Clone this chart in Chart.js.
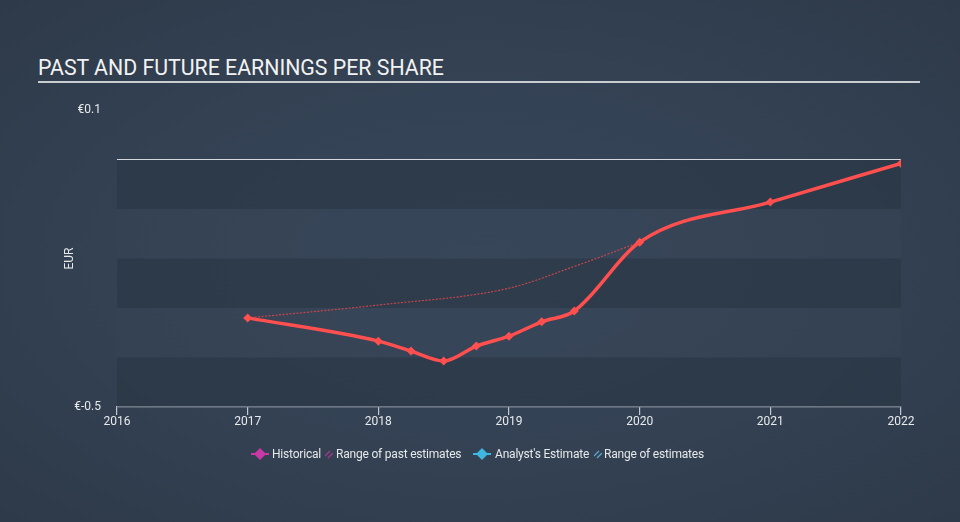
<!DOCTYPE html>
<html>
<head>
<meta charset="utf-8">
<script src="https://cdn.jsdelivr.net/npm/chart.js@4"></script>
<style>
  html, body { margin: 0; padding: 0; }
  body {
    width: 960px; height: 522px; overflow: hidden; position: relative;
    background: radial-gradient(ellipse at 50% 50%, #36465a 0%, #334153 55%, #2e3a49 100%);
    font-family: Roboto, "Liberation Sans", sans-serif;
  }
  #title {
    position: absolute; left: 38px; top: 55px; width: 882px;
    color: #f2f2f2; font-size: 21.3px; line-height: 25px;
    border-bottom: 2px solid #c9cdd2; padding-bottom: 1px;
  }
  #wrap { position: absolute; left: 0; top: 0; width: 960px; height: 522px; }
  #legend {
    position: absolute; top: 446px; left: 0; width: 960px; height: 16px;
    font-family: Roboto, sans-serif; font-size: 12px; color: #e6e8ea;
  }
  .li { position: absolute; top: 0; line-height: 16px; white-space: nowrap; letter-spacing: -0.2px; }
  .dia { position: absolute; top: 2px; width: 18px; height: 12px; }
  .hatch { position: absolute; top: 3px; width: 8px; height: 10px; }
</style>
</head>
<body>
<div id="title">PAST AND FUTURE EARNINGS PER SHARE</div>
<div id="wrap"><canvas id="c" width="960" height="522"></canvas></div>
<div id="legend">
  <svg class="dia" style="left:251px" viewBox="0 0 18 12"><path d="M0 5h5v2H0zM13 5h5v2h-5z" fill="#c73aa6"/><path d="M9 0l6 6-6 6-6-6z" fill="#c73aa6"/></svg>
  <span class="li" style="left:272px">Historical</span>
  <svg class="hatch" style="left:325px" viewBox="0 0 8 10"><path d="M0 7l5-5M3 9l5-5" stroke="#a23a8e" stroke-width="1.3"/></svg>
  <span class="li" style="left:336px">Range of past estimates</span>
  <svg class="dia" style="left:473px" viewBox="0 0 18 12"><path d="M0 5h5v2H0zM13 5h5v2h-5z" fill="#3fb6e0"/><path d="M9 0l6 6-6 6-6-6z" fill="#3fb6e0"/></svg>
  <span class="li" style="left:495px">Analyst's Estimate</span>
  <svg class="hatch" style="left:594px" viewBox="0 0 8 10"><path d="M0 7l5-5M3 9l5-5" stroke="#5aa7c8" stroke-width="1.3"/></svg>
  <span class="li" style="left:604px">Range of estimates</span>
</div>
<script>
// ---- data ----
const epsYears  = [2017, 2018, 2018.25, 2018.5, 2018.75, 2019, 2019.25, 2019.5, 2020, 2021, 2022];
const epsValues = [-0.320, -0.367, -0.387, -0.407, -0.377, -0.357, -0.328, -0.306, -0.167, -0.086, -0.008];
const pastEstYears  = [2017, 2018, 2019, 2019.5, 2020];
const pastEstValues = [-0.320, -0.294, -0.260, -0.216, -0.167];
const xTickYears = [2016, 2017, 2018, 2019, 2020, 2021, 2022];
const yTickValues = [-0.5, 0.1];
const bandEdges = [-0.5, -0.4, -0.3, -0.2, -0.1, 0.0];
const yMin = -0.5, yMax = 0.1;

const toXY = (xs, ys) => xs.map((x, i) => ({x: x, y: ys[i]}));

const bandPlugin = {
  id: 'bands',
  beforeDatasetsDraw(chart) {
    const {ctx, chartArea, scales} = chart;
    const y = scales.y;
    ctx.save();
    for (let i = 0; i < bandEdges.length - 1; i++) {
      const y0 = y.getPixelForValue(bandEdges[i]);
      const y1 = y.getPixelForValue(bandEdges[i + 1]);
      ctx.fillStyle = (i % 2 === 0) ? 'rgba(40,52,66,0.55)' : 'rgba(58,72,88,0.25)';
      ctx.fillRect(chartArea.left, y1, chartArea.right - chartArea.left, y0 - y1);
    }
    const yz = y.getPixelForValue(0);
    ctx.strokeStyle = '#d5d8dc';
    ctx.lineWidth = 1.2;
    ctx.beginPath();
    ctx.moveTo(chartArea.left, yz);
    ctx.lineTo(chartArea.right, yz);
    ctx.stroke();
    ctx.restore();
  }
};

new Chart(document.getElementById('c'), {
  type: 'scatter',
  data: {
    datasets: [
      {
        label: 'Range of past estimates',
        data: toXY(pastEstYears, pastEstValues),
        showLine: true,
        borderColor: 'rgba(230,70,75,0.85)',
        borderWidth: 1.2,
        borderDash: [2, 1.5],
        pointRadius: 0,
        cubicInterpolationMode: 'monotone',
        order: 2
      },
      {
        label: 'EPS',
        data: toXY(epsYears, epsValues),
        showLine: true,
        borderColor: '#ff4f4f',
        backgroundColor: '#ff4f4f',
        borderWidth: 3.5,
        pointStyle: 'rectRot',
        pointRadius: 4.5,
        pointBorderWidth: 0,
        cubicInterpolationMode: 'monotone',
        order: 1
      }
    ]
  },
  options: {
    responsive: false,
    animation: false,
    events: [],
    layout: { padding: { left: 40, right: 59, top: 110, bottom: 85 } },
    plugins: { legend: { display: false }, tooltip: { enabled: false }, title: { display: false } },
    scales: {
      x: {
        type: 'linear',
        min: 2016, max: 2022,
        afterBuildTicks(s) { s.ticks = xTickYears.map(v => ({value: v})); },
        afterFit(s) { s.height = 30; },
        border: { display: true, color: '#c2c9d2', width: 1.2 },
        grid: { display: true, drawOnChartArea: false, drawTicks: true, tickLength: 8, color: '#c2c9d2', lineWidth: 1.2 },
        ticks: { color: '#e8eaec', font: { family: 'Roboto', size: 12 }, padding: 0, maxRotation: 0,
                 callback: v => String(v) }
      },
      y: {
        type: 'linear',
        min: yMin, max: yMax,
        afterBuildTicks(s) { s.ticks = yTickValues.map(v => ({value: v})); },
        afterFit(s) { s.width = 77; },
        border: { display: false },
        grid: { display: false, drawTicks: false },
        ticks: { color: '#e8eaec', font: { family: 'Roboto', size: 12 }, padding: 16,
                 callback: v => '€' + (Math.round(v * 10) / 10) },
        title: { display: true, text: 'EUR', color: '#e8eaec', font: { family: 'Roboto', size: 12 },
                 padding: { top: 23, bottom: 0 } }
      }
    }
  },
  plugins: [bandPlugin]
});
</script>
</body>
</html>
